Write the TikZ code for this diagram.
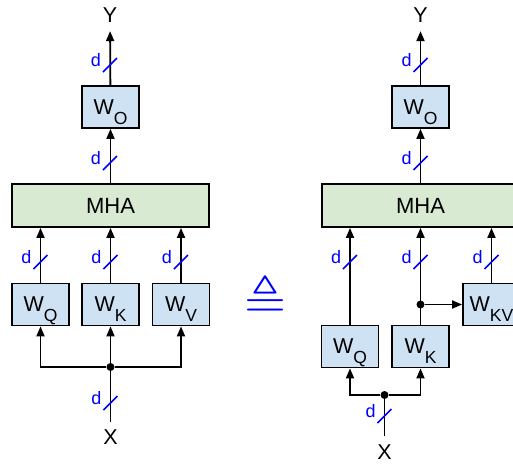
\documentclass[tikz,border=0pt]{standalone}
\usepackage{amssymb}
\usepackage{fontspec}
\setmainfont{Liberation Sans}
\usetikzlibrary{arrows.meta}

\definecolor{wblue}{HTML}{CFE2F3}
\definecolor{mgreen}{HTML}{D9EAD3}
\newcommand{\wsub}[1]{W\raisebox{-10pt}[0pt][0pt]{\fontsize{17.5}{17.5}\selectfont #1}}

\tikzset{
  wbox/.style={draw, line width=1.8pt, fill=wblue, minimum width=57pt, minimum height=42pt,
    inner sep=0pt, font=\fontsize{21.5}{21.5}\selectfont},
  mhabox/.style={draw, line width=1.8pt, fill=mgreen, minimum width=197pt, minimum height=43pt,
    inner sep=0pt, font=\fontsize{22}{22}\selectfont},
  iolab/.style={inner xsep=1pt, inner ysep=8pt, font=\fontsize{21.5}{21.5}\selectfont},
  dot/.style={circle, fill, inner sep=0pt, minimum size=8pt},
  arr/.style={line width=1.8pt, -{Triangle[length=10pt,width=8pt]}},
  wire/.style={line width=1.8pt},
  slash/.style={blue, line width=1.6pt},
  dlab/.style={blue, inner sep=0pt, font=\fontsize{18}{18}\selectfont}
}

\begin{document}
\begin{tikzpicture}[x=1pt, y=-1pt]
  \useasboundingbox (0,0) rectangle (513,464);

  % left: separate projections
  \node[iolab] (yl) at (110,15.5) {Y};
  \node[wbox] (wol) at (110.5,107) {\wsub{O}};
  \node[mhabox] (mhal) at (110.5,205.5) {MHA};
  \node[wbox] (wql) at (40.5,304.5) {\wsub{Q}};
  \node[wbox] (wkl) at (110.5,304.5) {\wsub{K}};
  \node[wbox] (wvl) at (181,304.5) {\wsub{V}};
  \node[dot] (jl) at (110.5,367) {};
  \node[iolab] (xl) at (110.5,437.5) {X};

  \draw[arr] (wol) -- (yl);
  \draw[arr] (mhal.north -| wol) -- (wol);
  \draw[arr] (wql) -- (wql |- mhal.south);
  \draw[arr] (wkl) -- (mhal);
  \draw[arr] (wvl) -- (wvl |- mhal.south);
  \draw[wire] (xl) -- (jl);
  \draw[arr] (jl) -| (wql);
  \draw[arr] (jl) -- (wkl);
  \draw[arr] (jl) -| (wvl);

  % equivalence sign
  \node[blue, inner sep=0pt, font=\fontsize{54}{54}\selectfont] (eq) at (265.5,297)
    {\scalebox{1}[0.9]{$\triangleq$}};

  % right: shared key/value projection
  \node[iolab] (yr) at (420.5,15.5) {Y};
  \node[wbox] (wor) at (420.5,107) {\wsub{O}};
  \node[mhabox] (mhar) at (420.5,205.5) {MHA};
  \node[wbox] (wkvr) at (491.5,304.5) {\wsub{KV}};
  \node[wbox] (wqr) at (350,346.5) {\wsub{Q}};
  \node[wbox] (wkr) at (420.5,346.5) {\wsub{K}};
  \node[dot] (jk) at (420.5,304.5) {};
  \node[dot] (jr) at (384.5,395) {};
  \node[iolab] (xr) at (384.5,452) {X};

  \draw[arr] (wor) -- (yr);
  \draw[arr] (mhar.north -| wor) -- (wor);
  \draw[arr] (wqr) -- (wqr |- mhar.south);
  \draw[arr] (wkr) -- (mhar);
  \draw[arr] (wkvr) -- (wkvr |- mhar.south);
  \draw[arr] (jk) -- (wkvr);
  \draw[wire] (xr) -- (jr);
  \draw[arr] (jr) -| (wqr);
  \draw[arr] (jr) -| (wkr);

  % bus width marks
  \foreach \x/\y in {110/65, 110/163, 40.5/262, 110.5/262, 181/262, 110.5/403,
                     420.5/65, 420.5/163, 350/262, 420.5/262, 491.5/262, 384.5/416}
  {
    \draw[slash] (\x-7,\y+7) -- (\x+7,\y-7);
    \node[dlab] at (\x-14,\y-5) {d};
  }
\end{tikzpicture}
\end{document}
